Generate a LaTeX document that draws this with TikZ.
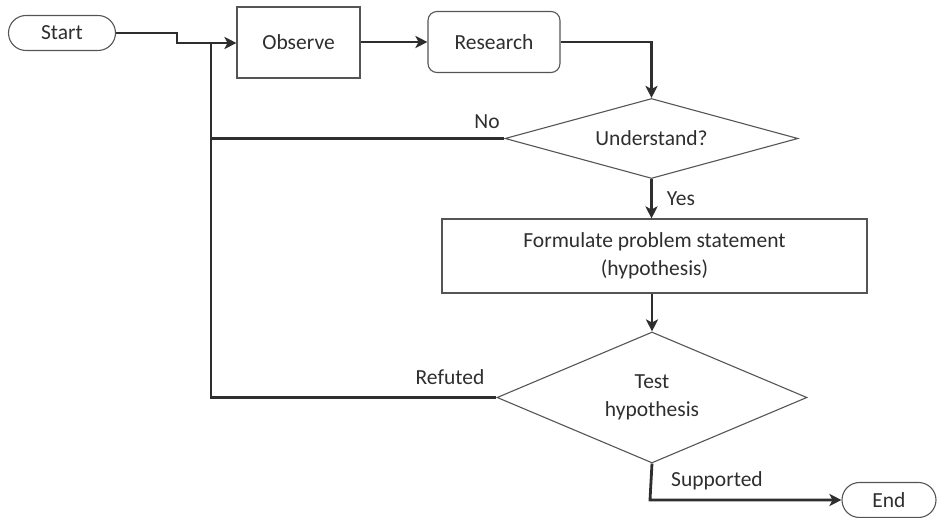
\documentclass[tikz,border=0pt]{standalone}
\usepackage{fontspec}
\setmainfont{Carlito}
\usetikzlibrary{arrows.meta,shapes.geometric,shapes.misc}
\definecolor{edgegray}{HTML}{555555}
\definecolor{linedark}{HTML}{2E2E2E}
\definecolor{textgray}{HTML}{2E2E2E}
\tikzset{
  box/.style={draw=edgegray, line width=1.1pt, text=textgray, inner sep=0pt, align=center},
  terminal/.style={box, rounded rectangle},
  process/.style={box, rectangle},
  softbox/.style={box, rectangle, rounded corners=9pt},
  decision/.style={box, diamond},
  flow/.style={draw=linedark, line width=2.8pt, line join=miter},
  arrowflow/.style={flow, -{Stealth[length=12pt,width=12pt,inset=3pt]}},
  tag/.style={text=textgray, inner sep=0pt},
}
\begin{document}
\begin{tikzpicture}[x=1pt,y=-1pt, font=\fontsize{21.5}{28}\selectfont]
\useasboundingbox (0,0) rectangle (938,518);

% process steps
\node[terminal, minimum width=107pt, minimum height=35pt] (start) at (62,33) {Start};
\node[process, minimum width=123pt, minimum height=71pt] (observe) at (298.5,42.5) {Observe};
\node[softbox, minimum width=132pt, minimum height=61pt] (research) at (494,42) {Research};
\node[decision, minimum width=293pt, minimum height=80pt, shape aspect=3.66] (understand) at (651.5,138.5) {Understand?};
\node[process, minimum width=425pt, minimum height=74pt] (formulate) at (654.5,256) {Formulate problem statement\\(hypothesis)};
\node[decision, minimum width=310pt, minimum height=131pt, shape aspect=2.37] (test) at (652,397.5) {Test\\hypothesis};
\node[terminal, minimum width=94pt, minimum height=35pt] (end) at (889,500) {End};

% junction points of the return loop
\coordinate (jtop) at (211,43);
\coordinate (jbot) at (211,397.5);
\coordinate (bendA) at (177,33);
\coordinate (bendB) at (177,43);
\coordinate (rturn) at (651.5,42);
\coordinate (sturn) at (650,500);

% connectors
\draw[arrowflow] (start.east) -- (bendA) -- (bendB) -- (observe.west |- bendB);
\draw[arrowflow] (observe.east |- research) -- (research.west);
\draw[arrowflow] (research.east) -- (rturn) -- (understand.north);
\draw[arrowflow] (understand.south) -- (formulate.north -| understand.south);
\draw[arrowflow] (formulate.south -| test.north) -- (test.north);
\draw[flow] (understand.west) -- (understand.west -| jtop);
\draw[flow] (test.west) -- (jbot) -- (jtop);
\draw[arrowflow] (test.south) -- (sturn) -- (end.west);

% branch labels
\node[tag] (no) at (487,122) {No};
\node[tag] (yes) at (681,199) {Yes};
\node[tag] (refuted) at (450,377) {Refuted};
\node[tag] (supported) at (717,481) {Supported};
\end{tikzpicture}
\end{document}
